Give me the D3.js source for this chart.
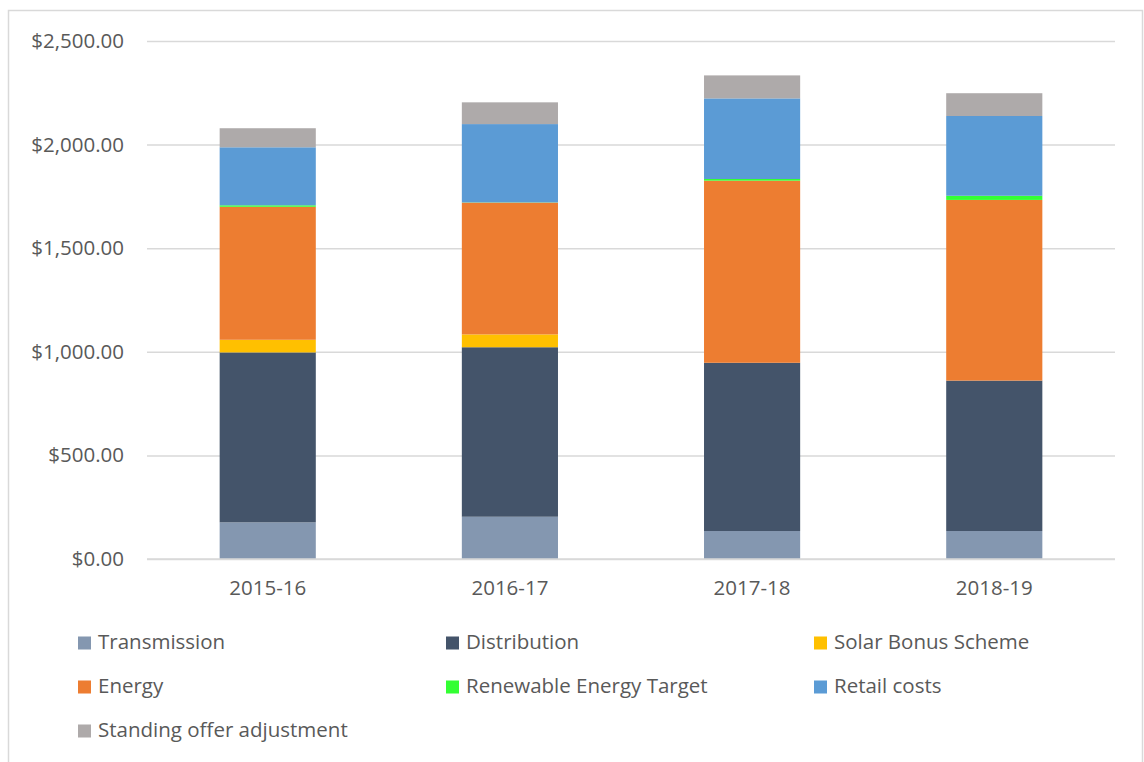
<!DOCTYPE html>
<html>
<head>
<meta charset="utf-8">
<script src="https://cdn.jsdelivr.net/npm/d3@7"></script>
<style>
  body { margin: 0; background: #fff; }
  text { font-family: "Open Sans", "Noto Sans", sans-serif; fill: #595959; }
</style>
</head>
<body>
<svg id="chart" width="1144" height="762"></svg>
<script>
var years = ["2015-16", "2016-17", "2017-18", "2018-19"];
var seriesNames = ["Transmission", "Distribution", "Solar Bonus Scheme", "Energy",
  "Renewable Energy Target", "Retail costs", "Standing offer adjustment"];
var colors = ["#8497B0", "#44546A", "#FFC000", "#ED7D31", "#33FF33", "#5B9BD5", "#AEAAAA"];

var transmission = [177, 204, 135, 135];
var distribution = [820, 818, 812, 726];
var solarBonus = [61, 62, 0, 0];
var energy = [642, 636, 879, 872];
var renewable = [7, 1, 8, 20];
var retail = [280, 378, 389, 385];
var standingOffer = [92, 105, 111, 110];

var yTicks = [0, 500, 1000, 1500, 2000, 2500];

var allSeries = [transmission, distribution, solarBonus, energy, renewable, retail, standingOffer];

// table for d3.stack
var rows = years.map(function(y, i) {
  var r = { year: y };
  seriesNames.forEach(function(n, j) { r[n] = allSeries[j][i]; });
  return r;
});

var svg = d3.select("#chart");

// outer border
svg.append("rect")
  .attr("x", 8.5).attr("y", 10.5)
  .attr("width", 1134).attr("height", 770)
  .attr("fill", "none")
  .attr("stroke", "#D9D9D9")
  .attr("stroke-width", 1.5);

var x = d3.scaleBand().domain(years).range([147, 1115])
  .paddingInner(0.603).paddingOuter(0.3);
var y = d3.scaleLinear().domain([0, 2500]).range([559, 41]);
var z = d3.scaleOrdinal().domain(seriesNames).range(colors);

var fmt = function(d) { return "$" + d3.format(",.2f")(d); };

// gridlines + y labels
var yAxis = svg.append("g")
  .attr("transform", "translate(147,0)")
  .call(d3.axisLeft(y).tickValues(yTicks).tickFormat(fmt).tickSize(-968).tickPadding(23));
yAxis.select(".domain").remove();
yAxis.selectAll(".tick line").attr("stroke", "#D9D9D9").attr("stroke-width", 1.5);
yAxis.selectAll(".tick text").style("font-size", "20.5px").attr("fill", "#595959");

var stack = d3.stack().keys(seriesNames);
var layers = stack(rows);

svg.append("g").selectAll("g")
  .data(layers)
  .enter().append("g")
  .attr("fill", function(d) { return z(d.key); })
  .selectAll("rect")
  .data(function(d) { return d; })
  .enter().append("rect")
  .attr("x", function(d) { return x(d.data.year); })
  .attr("width", x.bandwidth())
  .attr("y", function(d) { return y(d[1]); })
  .attr("height", function(d) { return y(d[0]) - y(d[1]); });

// baseline
svg.append("line")
  .attr("x1", 147).attr("x2", 1115)
  .attr("y1", y(0)).attr("y2", y(0))
  .attr("stroke", "#D9D9D9").attr("stroke-width", 1.5);

// x labels
var xAxis = svg.append("g")
  .attr("transform", "translate(0," + y(0) + ")")
  .call(d3.axisBottom(x).tickSize(0).tickPadding(21));
xAxis.select(".domain").remove();
xAxis.selectAll(".tick text").style("font-size", "20.5px").attr("fill", "#595959");

// legend
var legendCols = [78, 446, 814];
var legendRows = [643, 687, 731];
var legend = svg.append("g").selectAll("g")
  .data(seriesNames)
  .enter().append("g")
  .attr("transform", function(d, i) {
    return "translate(" + legendCols[i % 3] + "," + legendRows[Math.floor(i / 3)] + ")";
  });
legend.append("rect")
  .attr("x", 0).attr("y", -6.5)
  .attr("width", 13).attr("height", 13)
  .attr("fill", function(d) { return z(d); });
legend.append("text")
  .attr("x", 20).attr("y", -1)
  .attr("dy", "0.35em")
  .style("font-size", "20.5px")
  .text(function(d) { return d; });
</script>
</body>
</html>
